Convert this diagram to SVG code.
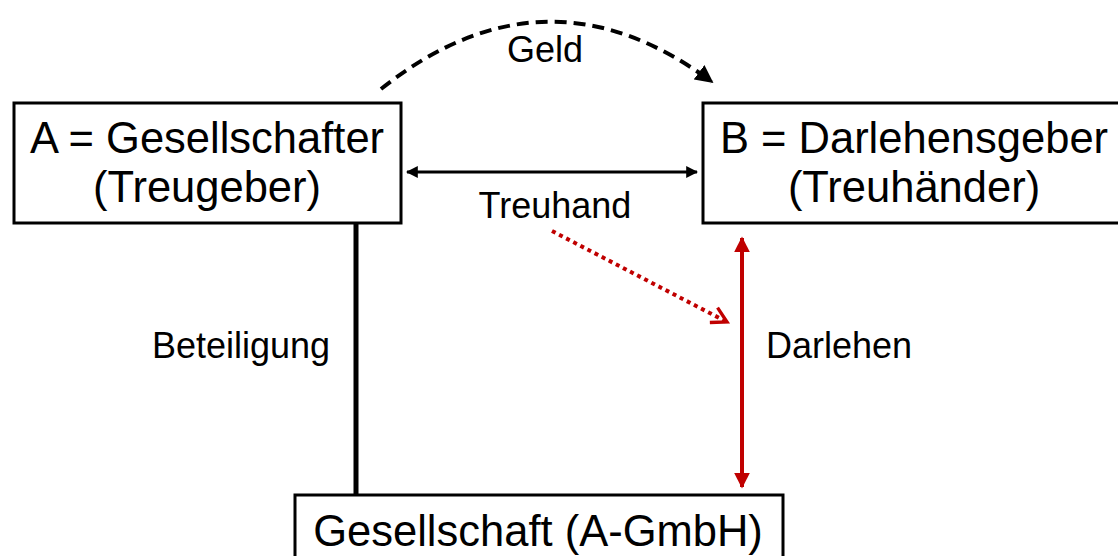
<svg xmlns="http://www.w3.org/2000/svg" width="1118" height="556" viewBox="0 0 1118 556">
<style>
.box{fill:#fff;stroke:#000;stroke-width:3}
.t{font-family:"Liberation Sans",Arial,sans-serif;fill:#000}
.big{font-size:43.5px}
.lbl{font-size:36px}
</style>
<defs>
<marker id="ab" viewBox="0 0 10 10" refX="9" refY="5" markerWidth="4" markerHeight="4" orient="auto-start-reverse" markerUnits="strokeWidth">
<path d="M0,0 L10,5 L0,10 Z" fill="#000"/>
</marker>
<marker id="ad" viewBox="0 0 10 10" refX="9" refY="5" markerWidth="4.5" markerHeight="4.5" orient="auto" markerUnits="strokeWidth">
<path d="M0,0 L10,5 L0,10 Z" fill="#000"/>
</marker>
<marker id="ar" viewBox="0 0 10 10" refX="9" refY="5" markerWidth="4" markerHeight="4" orient="auto-start-reverse" markerUnits="strokeWidth">
<path d="M0,0 L10,5 L0,10 Z" fill="#C00000"/>
</marker>
<marker id="ao" viewBox="0 0 12 12" refX="10" refY="6" markerWidth="5" markerHeight="5" orient="auto" markerUnits="strokeWidth">
<path d="M1,1 L10,6 L1,11" fill="none" stroke="#C00000" stroke-width="2"/>
</marker>
</defs>
<g id="connectors">
<path d="M381,89 Q546,-42 712,82" fill="none" stroke="#000" stroke-width="4" stroke-dasharray="12,7" marker-end="url(#ad)"/>
<line x1="407" y1="172" x2="697" y2="172" stroke="#000" stroke-width="3" marker-start="url(#ab)" marker-end="url(#ab)"/>
<line x1="552" y1="231" x2="727" y2="322" stroke="#C00000" stroke-width="4" stroke-dasharray="4,4"  marker-end="url(#ao)"/>
<line x1="742" y1="238" x2="742" y2="487" stroke="#C00000" stroke-width="4" marker-start="url(#ar)" marker-end="url(#ar)"/>
<line x1="356" y1="223" x2="356" y2="495" stroke="#000" stroke-width="5"/>
<text class="t lbl" x="545" y="62" text-anchor="middle">Geld</text>
<text class="t lbl" x="555" y="218" text-anchor="middle">Treuhand</text>
<text class="t lbl" x="241" y="358" text-anchor="middle">Beteiligung</text>
<text class="t lbl" x="839" y="358" text-anchor="middle">Darlehen</text>
</g>
<g id="nodeA">
<rect class="box" x="14" y="103" width="387" height="120"/>
<text class="t big" x="207" y="153" text-anchor="middle">A = Gesellschafter</text>
<text class="t big" x="207" y="202" text-anchor="middle">(Treugeber)</text>
</g>
<g id="nodeB">
<rect class="box" x="703" y="103" width="423" height="120"/>
<text class="t big" x="914" y="153" text-anchor="middle">B = Darlehensgeber</text>
<text class="t big" x="914" y="202" text-anchor="middle">(Treuhänder)</text>
</g>
<g id="nodeC">
<rect class="box" x="295" y="495" width="488" height="80"/>
<text class="t big" x="538" y="546" text-anchor="middle">Gesellschaft (A-GmbH)</text>
</g>
</svg>
